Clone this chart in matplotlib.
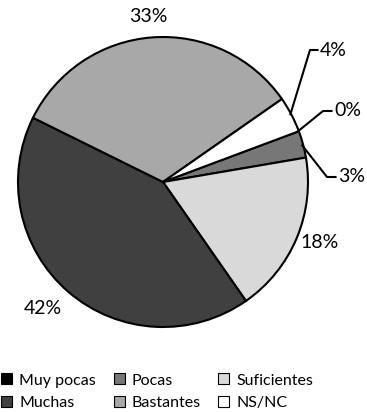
import numpy as np
import matplotlib.pyplot as plt
from matplotlib.patches import Patch

plt.rcParams.update({
    "font.family": ["Lato", "DejaVu Sans"],
    "font.size": 12,
})

# ---------------------------------------------------------
#  Data
# ---------------------------------------------------------
categories = ["Muy pocas", "Pocas", "Suficientes", "Muchas", "Bastantes", "NS/NC"]
values = [0, 3, 18, 42, 33, 4]
colors = ["#000000", "#777777", "#d9d9d9", "#404040", "#a8a8a8", "#ffffff"]

W, H = 367, 412
CX, CY, R = 163, 182, 145   # pie centre / radius in pixels

fig = plt.figure(figsize=(W / 100, H / 100), dpi=100)
ax = fig.add_axes([(CX - R) / W, (H - CY - R) / H, 2 * R / W, 2 * R / H])
ax.axis("off")

wedges, _ = ax.pie(values, colors=colors, startangle=20.5, counterclock=False,
                   radius=1.0,
                   wedgeprops=dict(edgecolor="black", linewidth=1.5))
ax.set_xlim(-1, 1)
ax.set_ylim(-1, 1)


def px(x, y):
    """pixel position -> data coords of the pie axes"""
    return (x - CX) / R, (CY - y) / R


def mid_point(w, r=0.99):
    a = np.deg2rad((w.theta1 + w.theta2) / 2)
    return r * np.cos(a), r * np.sin(a)


# plain labels placed around the pie
plain = {"Bastantes": (148, 16), "Muchas": (43, 308), "Suficientes": (320, 243)}
# labels with a leader line: elbow point and text start (pixels)
leader = {"NS/NC": ((310, 50), (320, 50)),
          "Muy pocas": ((323, 111), (334, 111)),
          "Pocas": ((327, 177), (338, 177))}

for w, cat, v in zip(wedges, categories, values):
    txt = f"{v}%"
    if cat in plain:
        x, y = px(*plain[cat])
        ax.text(x, y, txt, ha="center", va="center", fontsize=14)
    else:
        (ex, ey), (tx, ty) = leader[cat]
        x0, y0 = mid_point(w)
        x1, y1 = px(ex, ey)
        x2, y2 = px(tx, ty)
        ax.plot([x0, x1, x2 - 0.01], [y0, y1, y1], color="black", lw=1.5,
                clip_on=False, solid_capstyle="butt")
        ax.text(x2, y2, txt, ha="left", va="center", fontsize=14)

# legend, filled column by column -> reorder so rows read left to right
handles = [Patch(facecolor=c, edgecolor="black", linewidth=0.8) for c in colors]
order = [0, 3, 1, 4, 2, 5]
fig.legend([handles[i] for i in order], [categories[i] for i in order],
           ncol=3, loc="lower left", bbox_to_anchor=(-0.005, -0.002),
           frameon=False, fontsize=11.5, handlelength=0.68, handleheight=0.68,
           handletextpad=0.45, columnspacing=1.1, labelspacing=0.5,
           borderpad=0.2, borderaxespad=0)

fig.savefig("out.png", dpi=100, facecolor="white")
